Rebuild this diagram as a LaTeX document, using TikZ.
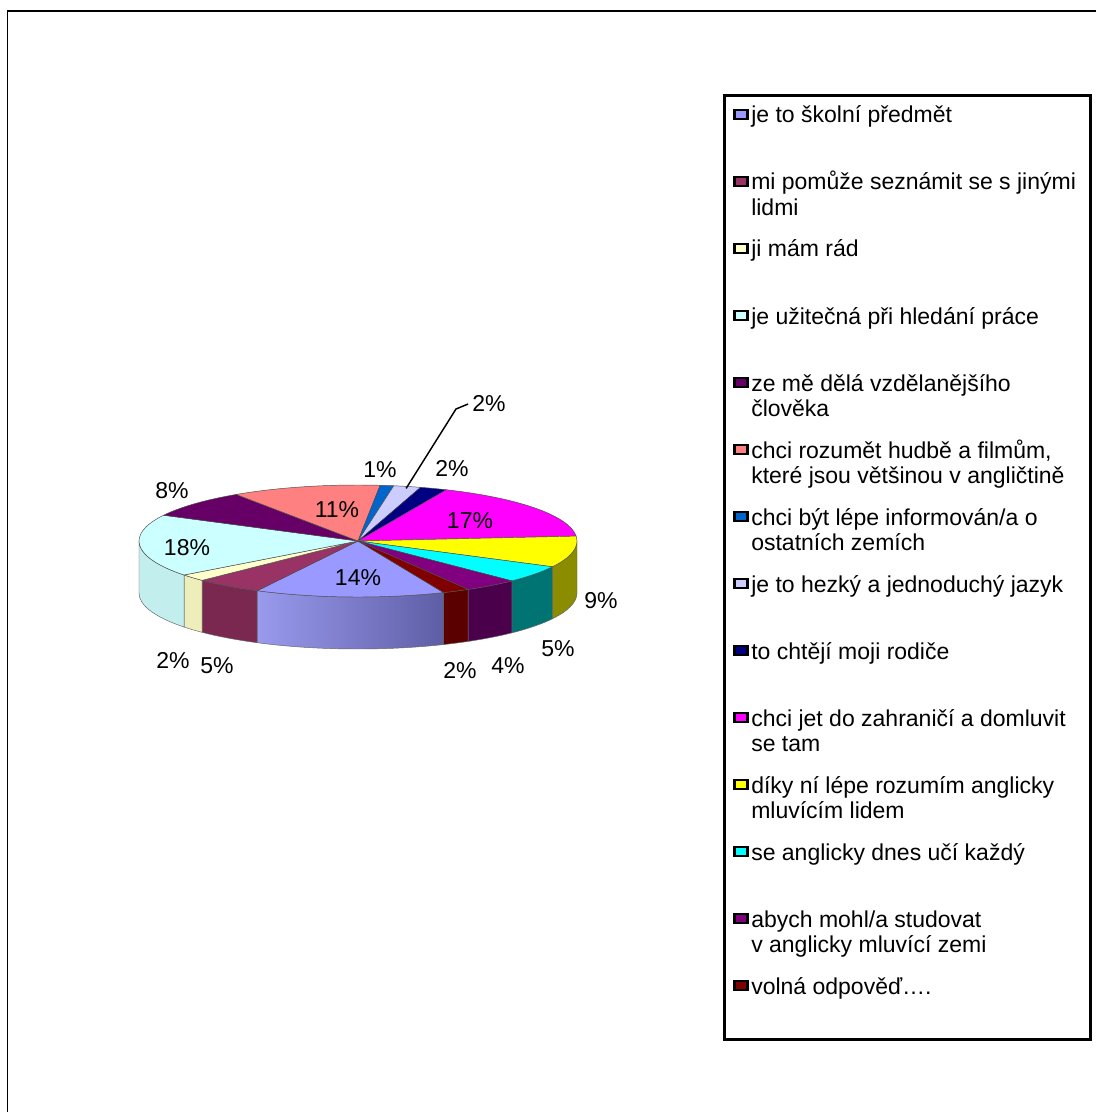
\documentclass[tikz,border=0pt]{standalone}
\usepackage{fontspec}
\setmainfont{Liberation Sans}
\definecolor{c1}{HTML}{9999FF}
\definecolor{c2}{HTML}{993366}
\definecolor{c3}{HTML}{FFFFCC}
\definecolor{c4}{HTML}{CCFFFF}
\definecolor{c5}{HTML}{660066}
\definecolor{c6}{HTML}{FF8080}
\definecolor{c7}{HTML}{0066CC}
\definecolor{c8}{HTML}{CCCCFF}
\definecolor{c9}{HTML}{000080}
\definecolor{c10}{HTML}{FF00FF}
\definecolor{c11}{HTML}{FFFF00}
\definecolor{c12}{HTML}{00FFFF}
\definecolor{c13}{HTML}{800080}
\definecolor{c14}{HTML}{800000}
\definecolor{s1l}{HTML}{9A9AEE}
\definecolor{s1r}{HTML}{5E5EA6}
\definecolor{s2}{HTML}{7A2850}
\definecolor{s3}{HTML}{EEEEBB}
\definecolor{s4}{HTML}{C2EEEE}
\definecolor{s11}{HTML}{8C8C00}
\definecolor{s12}{HTML}{007373}
\definecolor{s13}{HTML}{4A004A}
\definecolor{s14}{HTML}{5A0000}
\newcommand\twol[2]{\vtop{\hbox{#1}\hbox{#2}}}
\tikzset{
  lbl/.style={font=\fontsize{17.25}{20}\selectfont, inner sep=0pt},
  leg/.style={font=\fontsize{17.25}{19}\selectfont, anchor=base west, inner sep=0pt},
  mk/.style={draw=black, line width=1.9pt, fill=#1, minimum width=9.5pt, minimum height=7pt, inner sep=0pt},
  topface/.style={draw=black!70, line width=0.35pt},
  sideface/.style={draw=black!60, line width=0.35pt},
  pe/.style={x radius=219, y radius=56},
}
\begin{document}
\begin{tikzpicture}[x=0.75pt,y=-0.75pt]
\useasboundingbox[fill=white] (0,0) rectangle (1096,1112);
% outer frame
\draw[line width=1pt] (1096,11) -- (7.5,11) -- (7.5,1112);

% pie
\begin{scope}[shift={(358,541)},yscale=-1]
  % sides (visible front half)
  \shade[left color=s1l,right color=s1r,sideface] (293:219 and 56) arc[start angle=293,end angle=242.6,pe] -- ++(0,-52) arc[start angle=242.6,end angle=293,pe] -- cycle;
  \foreach \s/\e/\c in {242.6/224.6/s2, 224.6/217.4/s3, 217.4/180/s4, 0/-27.4/s11, -27.4/-45.4/s12, -45.4/-59.8/s13, -59.8/-67/s14}{
    \filldraw[fill=\c,sideface] (\s:219 and 56) arc[start angle=\s,end angle=\e,pe] -- ++(0,-52) arc[start angle=\e,end angle=\s,pe] -- cycle;
  }
  % top faces
  \foreach \s/\e/\c in {293/242.6/c1, 242.6/224.6/c2, 224.6/217.4/c3, 217.4/152.6/c4, 152.6/123.8/c5, 123.8/84.2/c6, 84.2/80.6/c7, 80.6/73.4/c8, 73.4/66.2/c9, 66.2/5/c10, 5/-27.4/c11, -27.4/-45.4/c12, -45.4/-59.8/c13, -59.8/-67/c14}{
    \filldraw[fill=\c,topface] (0,0) -- (\s:219 and 56) arc[start angle=\s,end angle=\e,pe] -- cycle;
  }
  \coordinate (p8) at (77:214 and 54);
\end{scope}

% percentage labels
\node[lbl] (l1) at (358,578) {14\%};
\node[lbl] (l2) at (217,666) {5\%};
\node[lbl] (l3) at (173,661) {2\%};
\node[lbl] (l4) at (187,548) {18\%};
\node[lbl] (l5) at (172,491) {8\%};
\node[lbl] (l6) at (337,510) {11\%};
\node[lbl] (l7) at (380,470) {1\%};
\node[lbl] (l8) at (489,404) {2\%};
\node[lbl] (l9) at (452,469) {2\%};
\node[lbl] (l10) at (470,521) {17\%};
\node[lbl] (l11) at (601,601) {9\%};
\node[lbl] (l12) at (558,649) {5\%};
\node[lbl] (l13) at (508,666) {4\%};
\node[lbl] (l14) at (460,671) {2\%};
% callout
\coordinate (k8) at (456,409);
\draw[line width=1.1pt] (p8) -- (k8) -- ([xshift=-3pt]l8.west);

% legend
\node[draw=black, line width=2pt, anchor=north west, minimum width=274.5pt, minimum height=708pt, inner sep=0pt] (legend) at (723,94) {};
\node[mk=c1]  (m1)  at (741,114.5) {};
\node[mk=c2]  (m2)  at (741,181.5) {};
\node[mk=c3]  (m3)  at (741,248.5) {};
\node[mk=c4]  (m4)  at (741,315.5) {};
\node[mk=c5]  (m5)  at (741,382.5) {};
\node[mk=c6]  (m6)  at (741,449.5) {};
\node[mk=c7]  (m7)  at (741,516.5) {};
\node[mk=c8]  (m8)  at (741,583.5) {};
\node[mk=c9]  (m9)  at (741,650.5) {};
\node[mk=c10] (m10) at (741,717.5) {};
\node[mk=c11] (m11) at (741,784.5) {};
\node[mk=c12] (m12) at (741,851.5) {};
\node[mk=c13] (m13) at (741,918.5) {};
\node[mk=c14] (m14) at (741,985.5) {};
\node[leg] (t1)  at (751,123) {je to školní předmět};
\node[leg] (t2)  at (751,190) {\twol{mi pomůže seznámit se s jinými}{lidmi}};
\node[leg] (t3)  at (751,257) {ji mám rád};
\node[leg] (t4)  at (751,324) {je užitečná při hledání práce};
\node[leg] (t5)  at (751,391) {\twol{ze mě dělá vzdělanějšího}{člověka}};
\node[leg] (t6)  at (751,458) {\twol{chci rozumět hudbě a filmům,}{které jsou většinou v angličtině}};
\node[leg] (t7)  at (751,525) {\twol{chci být lépe informován/a o}{ostatních zemích}};
\node[leg] (t8)  at (751,592) {je to hezký a jednoduchý jazyk};
\node[leg] (t9)  at (751,659) {to chtějí moji rodiče};
\node[leg] (t10) at (751,726) {\twol{chci jet do zahraničí a domluvit}{se tam}};
\node[leg] (t11) at (751,793) {\twol{díky ní lépe rozumím anglicky}{mluvícím lidem}};
\node[leg] (t12) at (751,860) {se anglicky dnes učí každý};
\node[leg] (t13) at (751,927) {\twol{abych mohl/a studovat}{v anglicky mluvící zemi}};
\node[leg] (t14) at (751,994) {volná odpověď….};
\end{tikzpicture}
\end{document}
